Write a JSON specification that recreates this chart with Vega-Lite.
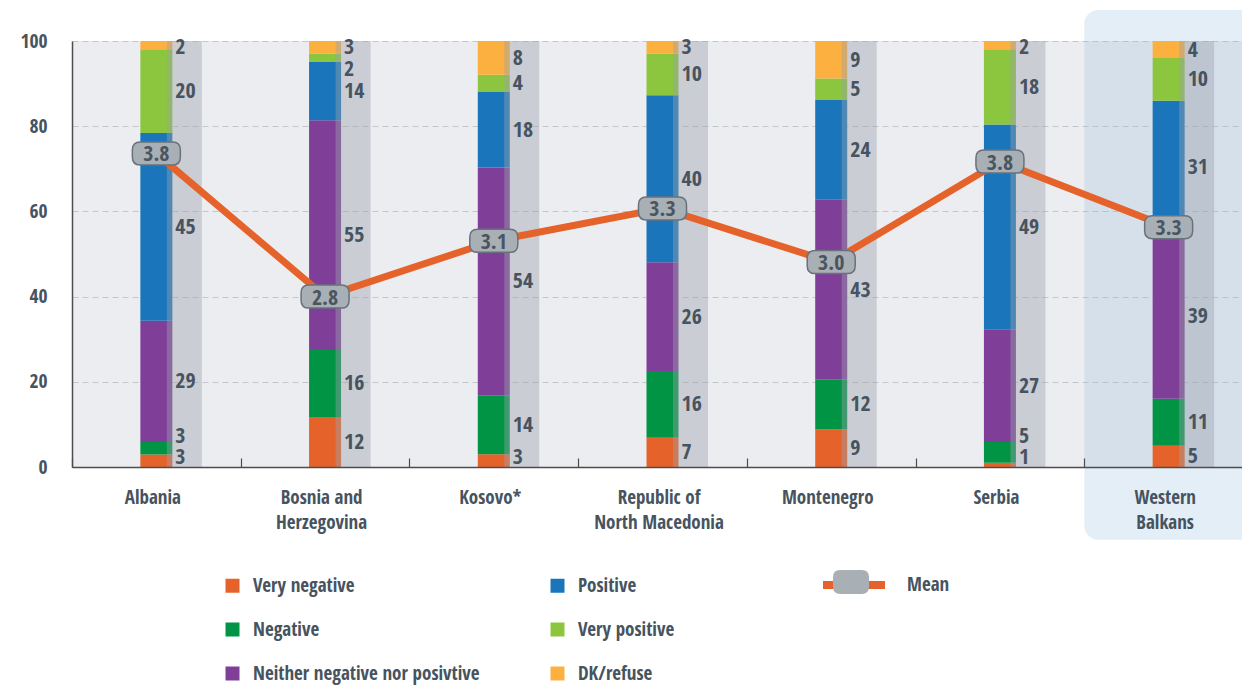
{
  "$schema": "https://vega.github.io/schema/vega-lite/v6.json",
  "autosize": {"type": "none"},
  "width": 1170,
  "height": 426,
  "padding": {"left": 72, "top": 41, "right": 0, "bottom": 220},
  "background": "white",
  "config": {
    "font": "Open Sans Condensed, Noto Sans Condensed, DejaVu Sans Condensed, sans-serif",
    "view": {"fill": "#ecedf0", "stroke": null}
  },
  "datasets": {
    "shares": [
      {"country": "Albania", "cat": "Very negative", "idx": 1, "v": 3},
      {"country": "Albania", "cat": "Negative", "idx": 2, "v": 3},
      {"country": "Albania", "cat": "Neither negative nor posivtive", "idx": 3, "v": 29},
      {"country": "Albania", "cat": "Positive", "idx": 4, "v": 45},
      {"country": "Albania", "cat": "Very positive", "idx": 5, "v": 20},
      {"country": "Albania", "cat": "DK/refuse", "idx": 6, "v": 2},
      {"country": "Bosnia and Herzegovina", "cat": "Very negative", "idx": 1, "v": 12},
      {"country": "Bosnia and Herzegovina", "cat": "Negative", "idx": 2, "v": 16},
      {"country": "Bosnia and Herzegovina", "cat": "Neither negative nor posivtive", "idx": 3, "v": 55},
      {"country": "Bosnia and Herzegovina", "cat": "Positive", "idx": 4, "v": 14},
      {"country": "Bosnia and Herzegovina", "cat": "Very positive", "idx": 5, "v": 2},
      {"country": "Bosnia and Herzegovina", "cat": "DK/refuse", "idx": 6, "v": 3},
      {"country": "Kosovo*", "cat": "Very negative", "idx": 1, "v": 3},
      {"country": "Kosovo*", "cat": "Negative", "idx": 2, "v": 14},
      {"country": "Kosovo*", "cat": "Neither negative nor posivtive", "idx": 3, "v": 54},
      {"country": "Kosovo*", "cat": "Positive", "idx": 4, "v": 18},
      {"country": "Kosovo*", "cat": "Very positive", "idx": 5, "v": 4},
      {"country": "Kosovo*", "cat": "DK/refuse", "idx": 6, "v": 8},
      {"country": "Republic of North Macedonia", "cat": "Very negative", "idx": 1, "v": 7},
      {"country": "Republic of North Macedonia", "cat": "Negative", "idx": 2, "v": 16},
      {"country": "Republic of North Macedonia", "cat": "Neither negative nor posivtive", "idx": 3, "v": 26},
      {"country": "Republic of North Macedonia", "cat": "Positive", "idx": 4, "v": 40},
      {"country": "Republic of North Macedonia", "cat": "Very positive", "idx": 5, "v": 10},
      {"country": "Republic of North Macedonia", "cat": "DK/refuse", "idx": 6, "v": 3},
      {"country": "Montenegro", "cat": "Very negative", "idx": 1, "v": 9},
      {"country": "Montenegro", "cat": "Negative", "idx": 2, "v": 12},
      {"country": "Montenegro", "cat": "Neither negative nor posivtive", "idx": 3, "v": 43},
      {"country": "Montenegro", "cat": "Positive", "idx": 4, "v": 24},
      {"country": "Montenegro", "cat": "Very positive", "idx": 5, "v": 5},
      {"country": "Montenegro", "cat": "DK/refuse", "idx": 6, "v": 9},
      {"country": "Serbia", "cat": "Very negative", "idx": 1, "v": 1},
      {"country": "Serbia", "cat": "Negative", "idx": 2, "v": 5},
      {"country": "Serbia", "cat": "Neither negative nor posivtive", "idx": 3, "v": 27},
      {"country": "Serbia", "cat": "Positive", "idx": 4, "v": 49},
      {"country": "Serbia", "cat": "Very positive", "idx": 5, "v": 18},
      {"country": "Serbia", "cat": "DK/refuse", "idx": 6, "v": 2},
      {"country": "Western Balkans", "cat": "Very negative", "idx": 1, "v": 5},
      {"country": "Western Balkans", "cat": "Negative", "idx": 2, "v": 11},
      {"country": "Western Balkans", "cat": "Neither negative nor posivtive", "idx": 3, "v": 39},
      {"country": "Western Balkans", "cat": "Positive", "idx": 4, "v": 31},
      {"country": "Western Balkans", "cat": "Very positive", "idx": 5, "v": 10},
      {"country": "Western Balkans", "cat": "DK/refuse", "idx": 6, "v": 4}
    ],
    "means": [
      {"country": "Albania", "mean": 3.8, "meanPos": 73.6},
      {"country": "Bosnia and Herzegovina", "mean": 2.8, "meanPos": 40.0},
      {"country": "Kosovo*", "mean": 3.1, "meanPos": 53.1},
      {"country": "Republic of North Macedonia", "mean": 3.3, "meanPos": 60.7},
      {"country": "Montenegro", "mean": 3.0, "meanPos": 48.1},
      {"country": "Serbia", "mean": 3.8, "meanPos": 71.7},
      {"country": "Western Balkans", "mean": 3.3, "meanPos": 56.3}
    ],
    "countries": [
      {"country": "Albania"},
      {"country": "Bosnia and Herzegovina"},
      {"country": "Kosovo*"},
      {"country": "Republic of North Macedonia"},
      {"country": "Montenegro"},
      {"country": "Serbia"},
      {"country": "Western Balkans"}
    ],
    "highlight": [
      {"country": "Western Balkans", "top": 107.3, "bottom": -17.1}
    ]
  },
  "encoding": {
    "x": {
      "field": "country",
      "type": "nominal",
      "scale": {
        "domain": ["Albania", "Bosnia and Herzegovina", "Kosovo*", "Republic of North Macedonia", "Montenegro", "Serbia", "Western Balkans"],
        "range": [0, 1181],
        "paddingInner": 0,
        "paddingOuter": 0
      },
      "axis": {
        "title": null,
        "labelAngle": 0,
        "labelFontSize": 19,
        "labelFontWeight": "bold",
        "labelColor": "#47535f",
        "labelLineHeight": 25,
        "labelBaseline": "top",
        "labelPadding": 30,
        "labelOffset": -4,
        "labelExpr": "datum.label == 'Bosnia and Herzegovina' ? ['Bosnia and', 'Herzegovina'] : datum.label == 'Republic of North Macedonia' ? ['Republic of', 'North Macedonia'] : datum.label == 'Western Balkans' ? ['Western', 'Balkans'] : datum.label",
        "domainColor": "#4d4d4d",
        "domainWidth": 1.5,
        "tickBand": "extent",
        "tickSize": -9,
        "tickColor": "#4d4d4d",
        "tickWidth": 1.2,
        "zindex": 1
      }
    }
  },
  "layer": [
    {
      "data": {"name": "highlight"},
      "mark": {"type": "rect", "fill": "#93bbdb", "opacity": 0.25, "cornerRadius": 14},
      "encoding": {
        "y": {"field": "top", "type": "quantitative", "scale": {"domain": [0, 100]}, "axis": null},
        "y2": {"field": "bottom"}
      }
    },
    {
      "layer": [
        {
          "data": {"name": "shares"},
          "mark": {"type": "bar", "width": 32},
          "encoding": {
            "y": {
              "field": "v",
              "type": "quantitative",
              "stack": "normalize",
              "scale": {"domain": [0, 1]},
              "axis": {
                "title": null,
                "values": [0, 0.2, 0.4, 0.6, 0.8, 1],
                "labelExpr": "format(datum.value * 100, 'd')",
                "labelFontSize": 19.5,
                "labelFontWeight": "bold",
                "labelColor": "#47535f",
                "labelPadding": 25,
                "ticks": false,
                "domainColor": "#4d4d4d",
                "domainWidth": 1.5,
                "grid": true,
                "gridColor": "#c3c6ca",
                "gridDash": [6, 4],
                "gridWidth": 1
              }
            },
            "color": {
              "field": "cat",
              "type": "nominal",
              "scale": {
                "domain": ["Very negative", "Negative", "Neither negative nor posivtive", "Positive", "Very positive", "DK/refuse"],
                "range": ["#e5632a", "#009444", "#7f3f98", "#1a75bb", "#8cc63f", "#fbb040"]
              },
              "legend": {
                "orient": "none",
                "legendX": 151,
                "legendY": 535,
                "columns": 2,
                "columnPadding": 68,
                "rowPadding": 24,
                "title": null,
                "symbolType": "square",
                "symbolSize": 196,
                "symbolStrokeWidth": 0,
                "labelOffset": 11,
                "labelFontSize": 19,
                "labelFontWeight": "bold",
                "labelColor": "#47535f",
                "labelLimit": 400
              }
            },
            "order": {"field": "idx", "type": "quantitative"}
          }
        },
        {
          "data": {"name": "countries"},
          "mark": {"type": "bar", "width": 35, "xOffset": 28, "color": "#9aa3ab", "opacity": 0.42},
          "encoding": {
            "y": {"datum": 1, "type": "quantitative"},
            "y2": {"datum": 0}
          }
        },
        {
          "data": {"name": "shares"},
          "transform": [
            {"stack": "v", "groupby": ["country"], "sort": [{"field": "idx", "order": "ascending"}], "offset": "normalize", "as": ["s0", "s1"]},
            {"calculate": "min((datum.s0 + datum.s1) / 2, 0.985)", "as": "a"},
            {"calculate": "datum.a + (6 - datum.idx) * 0.05", "as": "w"},
            {"window": [{"op": "min", "field": "w", "as": "wmin"}], "groupby": ["country"], "sort": [{"field": "idx", "order": "descending"}], "frame": [null, 0]},
            {"calculate": "max(datum.wmin - (6 - datum.idx) * 0.05, 0.023) - (datum.idx - 1) * 0.05", "as": "z"},
            {"window": [{"op": "max", "field": "z", "as": "zmax"}], "groupby": ["country"], "sort": [{"field": "idx", "order": "ascending"}], "frame": [null, 0]},
            {"calculate": "datum.zmax + (datum.idx - 1) * 0.05", "as": "lab"}
          ],
          "mark": {"type": "text", "align": "left", "baseline": "middle", "xOffset": 19, "fontSize": 22, "fontWeight": "bold", "color": "#47535f"},
          "encoding": {
            "y": {"field": "lab", "type": "quantitative"},
            "text": {"field": "v", "type": "quantitative"}
          }
        }
      ]
    },
    {
      "data": {"name": "means"},
      "layer": [
        {
          "mark": {"type": "line", "strokeWidth": 7},
          "encoding": {
            "y": {"field": "meanPos", "type": "quantitative", "scale": {"domain": [0, 100]}, "axis": null},
            "stroke": {
              "datum": "Mean",
              "scale": {"range": ["#e5632a"]},
              "legend": {
                "orient": "none",
                "legendX": 747,
                "legendY": 509,
                "title": null,
                "symbolType": "stroke",
                "symbolSize": 3844,
                "symbolStrokeWidth": 8,
                "labelOffset": 18,
                "labelFontSize": 19,
                "labelFontWeight": "bold",
                "labelColor": "#47535f"
              }
            }
          }
        },
        {
          "mark": {
            "type": "point",
            "filled": true,
            "shape": "M-0.67,-0.48 L0.67,-0.48 Q1,-0.48 1,-0.15 L1,0.15 Q1,0.48 0.67,0.48 L-0.67,0.48 Q-1,0.48 -1,0.15 L-1,-0.15 Q-1,-0.48 -0.67,-0.48 Z",
            "size": 2304,
            "stroke": "#68727c",
            "strokeWidth": 1.5,
            "opacity": 1
          },
          "encoding": {
            "y": {"field": "meanPos", "type": "quantitative"},
            "fill": {
              "datum": "Mean symbol",
              "scale": {"range": ["#a8afb5"]},
              "legend": {
                "orient": "none",
                "legendX": 761,
                "legendY": 523,
                "title": null,
                "symbolType": "M-0.6,-0.67 L0.6,-0.67 Q1,-0.67 1,-0.27 L1,0.27 Q1,0.67 0.6,0.67 L-0.6,0.67 Q-1,0.67 -1,0.27 L-1,-0.27 Q-1,-0.67 -0.6,-0.67 Z",
                "symbolSize": 1296,
                "symbolStrokeWidth": 0,
                "symbolOpacity": 1,
                "labelExpr": "''",
                "labelFontSize": 19
              }
            }
          }
        },
        {
          "mark": {"type": "text", "fontSize": 22, "fontWeight": "bold", "color": "#4a5560", "baseline": "middle", "dy": 1},
          "encoding": {
            "y": {"field": "meanPos", "type": "quantitative"},
            "text": {"field": "mean", "type": "quantitative", "format": ".1f"}
          }
        }
      ]
    }
  ],
  "resolve": {"scale": {"y": "independent"}}
}
